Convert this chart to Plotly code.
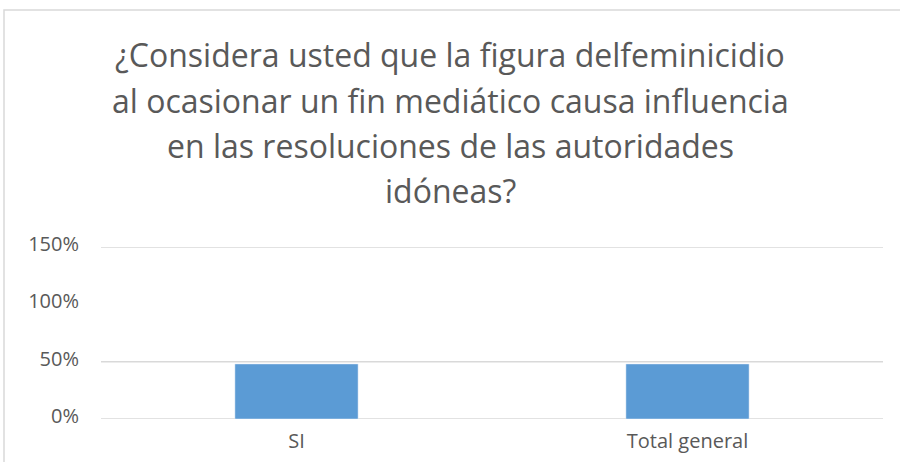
import plotly.graph_objects as go

categories = ["SI", "Total general"]
values = [0.48, 0.48]
tick_vals = [0, 0.5, 1.0, 1.5]
tick_text = ["0%", "50%", "100%", "150%"]
title_lines = [
    "¿Considera usted que la figura delfeminicidio",
    "al ocasionar un fin mediático causa influencia",
    "en las resoluciones de las autoridades",
    "idóneas?",
]
grid_vals = [0, 0.5, 1.5]

W, H = 900, 462
L, R, T, B = 101, 17, 247, 43
ph = H - T - B
pw = W - L - R

fig = go.Figure(go.Bar(x=categories, y=values, marker_color="#5B9BD5", width=0.315))

shapes = []
for g in grid_vals:
    shapes.append(dict(type="line", xref="paper", yref="y", x0=0, x1=1, y0=g, y1=g,
                       line=dict(color="#D9D9D9", width=1.5), layer="below"))
# chart border
shapes.append(dict(type="rect", xref="paper", yref="paper",
                   x0=(4 - L) / pw, x1=(905 - L) / pw,
                   y0=-(470 - (H - B)) / ph, y1=(H - B - 10) / ph,
                   line=dict(color="#D9D9D9", width=1.5)))

annotations = []
centers = [55, 100, 145, 190]
for line, cy in zip(title_lines, centers):
    annotations.append(dict(text=line, xref="paper", yref="paper", x=(450 - L) / pw,
                            y=(H - B - cy) / ph, xanchor="center", yanchor="middle",
                            showarrow=False, font=dict(size=32, color="#595959", family="Open Sans")))

fig.update_layout(
    width=W, height=H,
    margin=dict(l=L, r=R, t=T, b=B, autoexpand=False),
    paper_bgcolor="white", plot_bgcolor="white",
    showlegend=False,
    shapes=shapes,
    annotations=annotations,
    font=dict(family="Open Sans", color="#595959"),
)
fig.update_xaxes(showgrid=False, showline=False, zeroline=False, ticks="", automargin=False,
                 tickfont=dict(size=20, color="#595959"), ticklabelstandoff=8)
fig.update_yaxes(range=[0, 1.5], tickvals=tick_vals, ticktext=tick_text, showgrid=False,
                 zeroline=False, showline=False, ticks="", automargin=False,
                 tickfont=dict(size=20, color="#595959"),
                 ticklabelstandoff=21, ticklabelshift=-3)

fig.write_html("out.html", config={"displayModeBar": False},
               post_script="document.body.style.margin='0';document.body.style.overflow='hidden';")
